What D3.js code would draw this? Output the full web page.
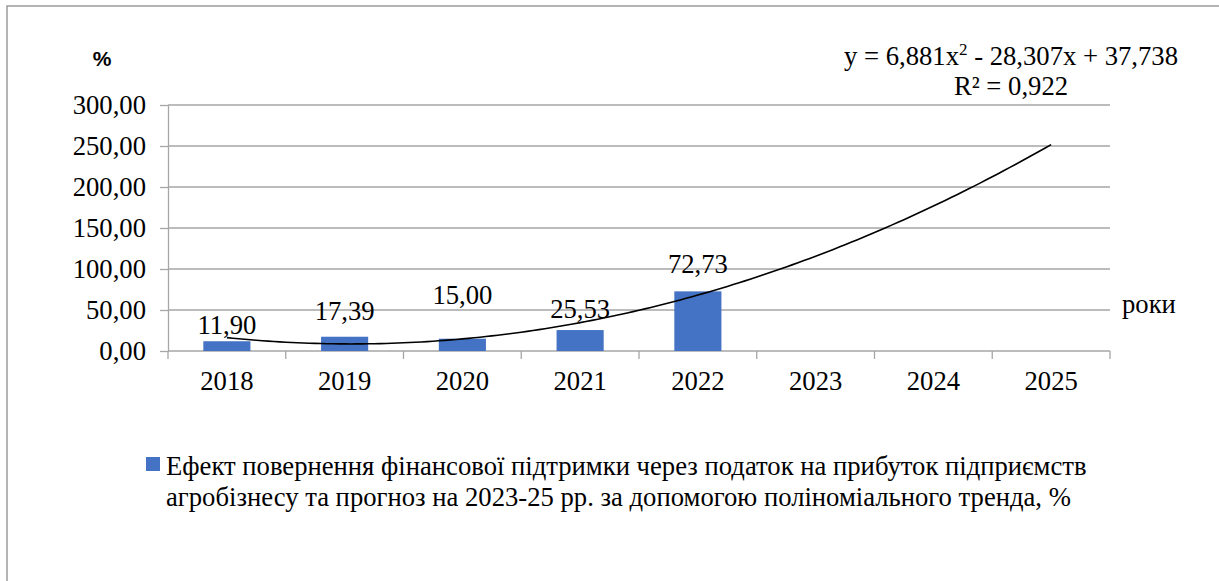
<!DOCTYPE html>
<html>
<head>
<meta charset="utf-8">
<script src="https://cdn.jsdelivr.net/npm/d3@7"></script>
<style>
  html, body { margin: 0; padding: 0; background: #fff; }
  svg { display: block; }
</style>
</head>
<body>
<svg id="chart" width="1219" height="581"></svg>
<script>
// ---- data ----
const categories = ["2018", "2019", "2020", "2021", "2022", "2023", "2024", "2025"];
const values = [11.90, 17.39, 15.00, 25.53, 72.73, null, null, null];
const yTicks = [0, 50, 100, 150, 200, 250, 300];
// polynomial trend: y = a*x^2 + b*x + c (x = 1..8)
const trendCoef = [6.881, -28.307, 37.738];
const trendR2 = 0.922;
const seriesName = ["Ефект повернення фінансової підтримки через податок на прибуток підприємств",
                    "агробізнесу та прогноз на 2023-25 рр. за допомогою поліноміального тренда, %"];
const yAxisTitle = "%";
const xAxisTitle = "роки";
// manual label offsets (px above bar top), as moved in the original
const labelDy = [7, 17, 35, 12, 18];

// ---- setup ----
const svg = d3.select("#chart");
const SERIF = '"Liberation Serif"';
const SANS = '"Liberation Sans"';
const gridColor = "#a6a6a6";
const barColor = "#4472c4";
const FS = 26.67;
const loc = d3.formatLocale({decimal: ",", thousands: " ", grouping: [3], currency: ["", ""]});
const f2 = loc.format(".2f");
const f3 = loc.format(".3f");
function serifText(sel, size) {
  return sel.style("font-family", SERIF).style("font-size", (size || FS) + "px").attr("fill", "#000");
}

// chart frame
svg.append("rect").attr("x", 7).attr("y", 6).attr("width", 1400).attr("height", 800)
  .attr("fill", "none").attr("stroke", "#8c8c8c").attr("stroke-width", 1.3);

const x = d3.scaleBand().domain(categories).range([168, 1110]).paddingInner(0.6).paddingOuter(0.3);
const y = d3.scaleLinear().domain([0, 300]).range([351, 105]);

// gridlines
svg.append("g").selectAll("line").data(yTicks).join("line")
  .attr("x1", 168).attr("x2", 1110)
  .attr("y1", d => y(d)).attr("y2", d => y(d))
  .attr("stroke", gridColor).attr("stroke-width", 1.3);

// y axis
const yAxis = svg.append("g").attr("transform", "translate(168,0)")
  .call(d3.axisLeft(y).tickValues(yTicks).tickFormat(f2).tickSizeInner(8).tickSizeOuter(0).tickPadding(14));
yAxis.attr("font-family", null).attr("font-size", null);
yAxis.select(".domain").attr("stroke", gridColor).attr("stroke-width", 1.3);
yAxis.selectAll(".tick line").attr("stroke", gridColor).attr("stroke-width", 1.3);
serifText(yAxis.selectAll(".tick text")).attr("dy", "0.33em");

// x axis labels
const xAxis = svg.append("g").attr("transform", "translate(0,351)")
  .call(d3.axisBottom(x).tickSize(0).tickPadding(0));
xAxis.attr("font-family", null).attr("font-size", null);
xAxis.select(".domain").remove();
serifText(xAxis.selectAll(".tick text")).attr("y", 39).attr("dy", 0);
// x tick marks at category boundaries
const bounds = categories.map(c => x(c) - x.step() * x.paddingInner() / 2).concat([1110]);
svg.append("g").selectAll("line").data(bounds).join("line")
  .attr("x1", d => d).attr("x2", d => d).attr("y1", 351).attr("y2", 359)
  .attr("stroke", gridColor).attr("stroke-width", 1.3);

// bars
const barData = categories.map((c, i) => ({c, v: values[i], i})).filter(d => d.v != null);
svg.append("g").selectAll("rect").data(barData).join("rect")
  .attr("x", d => x(d.c)).attr("width", x.bandwidth())
  .attr("y", d => y(d.v)).attr("height", d => y(0) - y(d.v))
  .attr("fill", barColor);

// data labels
serifText(svg.append("g").selectAll("text").data(barData).join("text"))
  .attr("x", d => x(d.c) + x.bandwidth() / 2)
  .attr("y", d => y(d.v) - labelDy[d.i])
  .attr("text-anchor", "middle")
  .text(d => f2(d.v));

// trendline
const xi = d3.scaleLinear().domain([1, categories.length])
  .range([x(categories[0]) + x.bandwidth() / 2, x(categories[categories.length - 1]) + x.bandwidth() / 2]);
const tPts = d3.range(1, categories.length + 0.001, 0.05)
  .map(t => [t, trendCoef[0] * t * t + trendCoef[1] * t + trendCoef[2]]);
svg.append("path").datum(tPts)
  .attr("d", d3.line().x(d => xi(d[0])).y(d => y(d[1])))
  .attr("fill", "none").attr("stroke", "#000").attr("stroke-width", 1.6);

// trend equation
const eq = serifText(svg.append("text")).attr("text-anchor", "middle").attr("x", 1011).attr("y", 65);
eq.append("tspan").text(`y = ${f3(trendCoef[0])}x`);
eq.append("tspan").attr("dy", -10).style("font-size", "17px").text("2");
eq.append("tspan").attr("dy", 10).text(` - ${f3(-trendCoef[1])}x + ${f3(trendCoef[2])}`);
serifText(svg.append("text")).attr("x", 1011).attr("y", 95).attr("text-anchor", "middle")
  .text(`R² = ${f3(trendR2)}`);

// axis titles
svg.append("text").attr("x", 102).attr("y", 66).attr("text-anchor", "middle")
  .style("font-family", SANS).style("font-weight", "bold").style("font-size", "21px")
  .attr("fill", "#000").text(yAxisTitle);
serifText(svg.append("text")).attr("x", 1122).attr("y", 313).text(xAxisTitle);

// legend
svg.append("rect").attr("x", 146).attr("y", 457).attr("width", 14).attr("height", 14).attr("fill", barColor);
seriesName.forEach((s, i) => {
  serifText(svg.append("text")).attr("x", 166).attr("y", 475 + i * 31).text(s);
});
</script>
</body>
</html>
